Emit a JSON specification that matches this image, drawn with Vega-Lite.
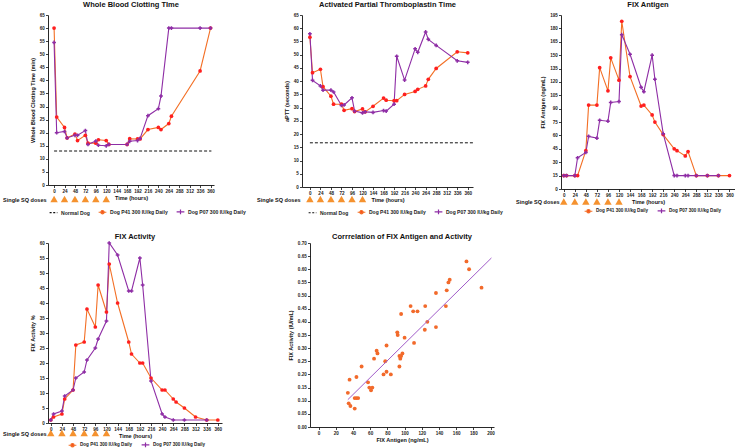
{
  "$schema": "https://vega.github.io/schema/vega-lite/v6.json",
  "padding": {"left": 2, "top": 0, "right": 0, "bottom": 0},
  "spacing": 15,
  "bounds": "full",
  "datasets": {
    "wbct_norm": [{"dog": "Normal", "h": 0, "h2": 362, "v": 13}],
    "aptt_norm": [{"dog": "Normal", "h": 0, "h2": 372, "v": 16.7}],
    "doses": [
      {"h": 0, "row": "Single SQ doses"}, {"h": 24, "row": "Single SQ doses"}, {"h": 48, "row": "Single SQ doses"},
      {"h": 72, "row": "Single SQ doses"}, {"h": 96, "row": "Single SQ doses"}, {"h": 120, "row": "Single SQ doses"}
    ],
    "wbct": [
      {"dog": "P41", "h": 0, "v": 60}, {"dog": "P41", "h": 6, "v": 26}, {"dog": "P41", "h": 24, "v": 22}, {"dog": "P41", "h": 30, "v": 18},
      {"dog": "P41", "h": 48, "v": 19.5}, {"dog": "P41", "h": 54, "v": 17}, {"dog": "P41", "h": 72, "v": 19}, {"dog": "P41", "h": 78, "v": 16},
      {"dog": "P41", "h": 96, "v": 16}, {"dog": "P41", "h": 102, "v": 17.3}, {"dog": "P41", "h": 120, "v": 17}, {"dog": "P41", "h": 126, "v": 15.5},
      {"dog": "P41", "h": 168, "v": 15.5}, {"dog": "P41", "h": 174, "v": 17.7}, {"dog": "P41", "h": 192, "v": 17.6}, {"dog": "P41", "h": 198, "v": 17.6},
      {"dog": "P41", "h": 216, "v": 21.2}, {"dog": "P41", "h": 240, "v": 22}, {"dog": "P41", "h": 246, "v": 21.2}, {"dog": "P41", "h": 264, "v": 23.5},
      {"dog": "P41", "h": 270, "v": 26.3}, {"dog": "P41", "h": 336, "v": 43.6}, {"dog": "P41", "h": 360, "v": 60},
      {"dog": "P07", "h": 0, "v": 54.5}, {"dog": "P07", "h": 6, "v": 20}, {"dog": "P07", "h": 24, "v": 20.5}, {"dog": "P07", "h": 30, "v": 18},
      {"dog": "P07", "h": 48, "v": 19}, {"dog": "P07", "h": 54, "v": 19}, {"dog": "P07", "h": 72, "v": 20.8}, {"dog": "P07", "h": 78, "v": 15.5},
      {"dog": "P07", "h": 96, "v": 16.8}, {"dog": "P07", "h": 102, "v": 15.2}, {"dog": "P07", "h": 120, "v": 15}, {"dog": "P07", "h": 126, "v": 15.5},
      {"dog": "P07", "h": 168, "v": 15.5}, {"dog": "P07", "h": 174, "v": 16.7}, {"dog": "P07", "h": 192, "v": 17}, {"dog": "P07", "h": 198, "v": 17.8},
      {"dog": "P07", "h": 216, "v": 26.5}, {"dog": "P07", "h": 240, "v": 29.2}, {"dog": "P07", "h": 246, "v": 34}, {"dog": "P07", "h": 264, "v": 60},
      {"dog": "P07", "h": 270, "v": 60}, {"dog": "P07", "h": 336, "v": 60}, {"dog": "P07", "h": 360, "v": 60}
    ],
    "aptt": [
      {"dog": "P41", "h": 0, "v": 56.6}, {"dog": "P41", "h": 6, "v": 43.2}, {"dog": "P41", "h": 24, "v": 44.5}, {"dog": "P41", "h": 30, "v": 37.9},
      {"dog": "P41", "h": 48, "v": 34.3}, {"dog": "P41", "h": 54, "v": 31.3}, {"dog": "P41", "h": 72, "v": 31.3}, {"dog": "P41", "h": 78, "v": 29},
      {"dog": "P41", "h": 96, "v": 29.6}, {"dog": "P41", "h": 102, "v": 28.5}, {"dog": "P41", "h": 120, "v": 29.5}, {"dog": "P41", "h": 126, "v": 28.4},
      {"dog": "P41", "h": 144, "v": 30.5}, {"dog": "P41", "h": 168, "v": 33.6}, {"dog": "P41", "h": 174, "v": 32.8}, {"dog": "P41", "h": 192, "v": 32.6},
      {"dog": "P41", "h": 198, "v": 32.6}, {"dog": "P41", "h": 216, "v": 35}, {"dog": "P41", "h": 240, "v": 36.1}, {"dog": "P41", "h": 246, "v": 36.9},
      {"dog": "P41", "h": 264, "v": 38.2}, {"dog": "P41", "h": 270, "v": 40.7}, {"dog": "P41", "h": 288, "v": 44.8}, {"dog": "P41", "h": 336, "v": 51.1},
      {"dog": "P41", "h": 360, "v": 50.7},
      {"dog": "P07", "h": 0, "v": 57.9}, {"dog": "P07", "h": 6, "v": 40.3}, {"dog": "P07", "h": 24, "v": 38.2}, {"dog": "P07", "h": 30, "v": 36.6},
      {"dog": "P07", "h": 48, "v": 36.6}, {"dog": "P07", "h": 54, "v": 35.9}, {"dog": "P07", "h": 72, "v": 30.8}, {"dog": "P07", "h": 78, "v": 31},
      {"dog": "P07", "h": 96, "v": 33.7}, {"dog": "P07", "h": 102, "v": 28.7}, {"dog": "P07", "h": 120, "v": 28}, {"dog": "P07", "h": 126, "v": 28.4},
      {"dog": "P07", "h": 144, "v": 28.2}, {"dog": "P07", "h": 168, "v": 28.9}, {"dog": "P07", "h": 174, "v": 28.7}, {"dog": "P07", "h": 192, "v": 31.3},
      {"dog": "P07", "h": 198, "v": 49.4}, {"dog": "P07", "h": 216, "v": 40.4}, {"dog": "P07", "h": 240, "v": 52.2}, {"dog": "P07", "h": 246, "v": 50.9},
      {"dog": "P07", "h": 264, "v": 58.6}, {"dog": "P07", "h": 270, "v": 55.8}, {"dog": "P07", "h": 288, "v": 53.5}, {"dog": "P07", "h": 336, "v": 47.7},
      {"dog": "P07", "h": 360, "v": 47.1}
    ],
    "fixag": [
      {"dog": "P41", "h": 0, "v": 15}, {"dog": "P41", "h": 6, "v": 15}, {"dog": "P41", "h": 24, "v": 15}, {"dog": "P41", "h": 30, "v": 15},
      {"dog": "P41", "h": 48, "v": 43}, {"dog": "P41", "h": 54, "v": 94}, {"dog": "P41", "h": 72, "v": 94}, {"dog": "P41", "h": 78, "v": 136},
      {"dog": "P41", "h": 96, "v": 110}, {"dog": "P41", "h": 102, "v": 147}, {"dog": "P41", "h": 120, "v": 122}, {"dog": "P41", "h": 126, "v": 188},
      {"dog": "P41", "h": 144, "v": 126}, {"dog": "P41", "h": 168, "v": 93}, {"dog": "P41", "h": 174, "v": 94}, {"dog": "P41", "h": 192, "v": 83},
      {"dog": "P41", "h": 198, "v": 75}, {"dog": "P41", "h": 216, "v": 61}, {"dog": "P41", "h": 240, "v": 45}, {"dog": "P41", "h": 246, "v": 43},
      {"dog": "P41", "h": 264, "v": 37}, {"dog": "P41", "h": 270, "v": 42}, {"dog": "P41", "h": 288, "v": 15}, {"dog": "P41", "h": 312, "v": 15},
      {"dog": "P41", "h": 336, "v": 15}, {"dog": "P41", "h": 360, "v": 15},
      {"dog": "P07", "h": 0, "v": 15}, {"dog": "P07", "h": 6, "v": 15}, {"dog": "P07", "h": 24, "v": 15}, {"dog": "P07", "h": 30, "v": 35},
      {"dog": "P07", "h": 48, "v": 41}, {"dog": "P07", "h": 54, "v": 59}, {"dog": "P07", "h": 72, "v": 57}, {"dog": "P07", "h": 78, "v": 77},
      {"dog": "P07", "h": 96, "v": 76}, {"dog": "P07", "h": 102, "v": 97}, {"dog": "P07", "h": 120, "v": 98}, {"dog": "P07", "h": 126, "v": 173},
      {"dog": "P07", "h": 144, "v": 151}, {"dog": "P07", "h": 168, "v": 114}, {"dog": "P07", "h": 174, "v": 109}, {"dog": "P07", "h": 192, "v": 150},
      {"dog": "P07", "h": 198, "v": 123}, {"dog": "P07", "h": 216, "v": 62}, {"dog": "P07", "h": 240, "v": 15}, {"dog": "P07", "h": 246, "v": 15},
      {"dog": "P07", "h": 264, "v": 15}, {"dog": "P07", "h": 270, "v": 15}, {"dog": "P07", "h": 288, "v": 15}, {"dog": "P07", "h": 312, "v": 15},
      {"dog": "P07", "h": 336, "v": 15}
    ],
    "fixact": [
      {"dog": "P41", "h": 0, "v": 1}, {"dog": "P41", "h": 6, "v": 2}, {"dog": "P41", "h": 24, "v": 3}, {"dog": "P41", "h": 30, "v": 8},
      {"dog": "P41", "h": 48, "v": 11}, {"dog": "P41", "h": 54, "v": 26}, {"dog": "P41", "h": 72, "v": 27}, {"dog": "P41", "h": 78, "v": 38},
      {"dog": "P41", "h": 96, "v": 32}, {"dog": "P41", "h": 102, "v": 46}, {"dog": "P41", "h": 120, "v": 37}, {"dog": "P41", "h": 126, "v": 53},
      {"dog": "P41", "h": 144, "v": 40}, {"dog": "P41", "h": 168, "v": 27}, {"dog": "P41", "h": 174, "v": 23}, {"dog": "P41", "h": 192, "v": 20},
      {"dog": "P41", "h": 198, "v": 20}, {"dog": "P41", "h": 216, "v": 15}, {"dog": "P41", "h": 240, "v": 11}, {"dog": "P41", "h": 246, "v": 11},
      {"dog": "P41", "h": 264, "v": 8}, {"dog": "P41", "h": 270, "v": 7}, {"dog": "P41", "h": 288, "v": 5}, {"dog": "P41", "h": 312, "v": 2},
      {"dog": "P41", "h": 336, "v": 1}, {"dog": "P41", "h": 360, "v": 1},
      {"dog": "P07", "h": 0, "v": 1}, {"dog": "P07", "h": 6, "v": 3}, {"dog": "P07", "h": 24, "v": 4}, {"dog": "P07", "h": 30, "v": 9},
      {"dog": "P07", "h": 48, "v": 11}, {"dog": "P07", "h": 54, "v": 15}, {"dog": "P07", "h": 72, "v": 17}, {"dog": "P07", "h": 78, "v": 21},
      {"dog": "P07", "h": 96, "v": 25}, {"dog": "P07", "h": 102, "v": 28}, {"dog": "P07", "h": 120, "v": 34}, {"dog": "P07", "h": 126, "v": 60},
      {"dog": "P07", "h": 144, "v": 56}, {"dog": "P07", "h": 168, "v": 44}, {"dog": "P07", "h": 174, "v": 44}, {"dog": "P07", "h": 192, "v": 55},
      {"dog": "P07", "h": 198, "v": 46}, {"dog": "P07", "h": 216, "v": 14}, {"dog": "P07", "h": 240, "v": 3}, {"dog": "P07", "h": 246, "v": 2},
      {"dog": "P07", "h": 264, "v": 1}, {"dog": "P07", "h": 288, "v": 1}, {"dog": "P07", "h": 336, "v": 1}
    ],
    "corr": [
      {"ag": 34, "act": 0.13}, {"ag": 36, "act": 0.18}, {"ag": 35, "act": 0.09}, {"ag": 37, "act": 0.08}, {"ag": 42, "act": 0.11},
      {"ag": 44, "act": 0.11}, {"ag": 46, "act": 0.11}, {"ag": 42, "act": 0.07}, {"ag": 44, "act": 0.19}, {"ag": 50, "act": 0.23},
      {"ag": 57.5, "act": 0.17}, {"ag": 59, "act": 0.15}, {"ag": 61, "act": 0.14}, {"ag": 62.5, "act": 0.15}, {"ag": 64.5, "act": 0.26},
      {"ag": 67.5, "act": 0.29}, {"ag": 68.5, "act": 0.28}, {"ag": 75.5, "act": 0.2}, {"ag": 77.5, "act": 0.25}, {"ag": 79, "act": 0.21},
      {"ag": 79, "act": 0.31}, {"ag": 84, "act": 0.2}, {"ag": 91.5, "act": 0.36}, {"ag": 92, "act": 0.35}, {"ag": 94, "act": 0.23},
      {"ag": 94, "act": 0.27}, {"ag": 95, "act": 0.26}, {"ag": 96, "act": 0.27}, {"ag": 96, "act": 0.43}, {"ag": 97.5, "act": 0.28},
      {"ag": 100, "act": 0.34}, {"ag": 107, "act": 0.46}, {"ag": 110, "act": 0.44}, {"ag": 111, "act": 0.32}, {"ag": 115, "act": 0.44},
      {"ag": 123.5, "act": 0.37}, {"ag": 124, "act": 0.46}, {"ag": 126.5, "act": 0.4}, {"ag": 136.5, "act": 0.51}, {"ag": 136.5, "act": 0.38},
      {"ag": 148, "act": 0.46}, {"ag": 149, "act": 0.52}, {"ag": 151, "act": 0.55}, {"ag": 152.5, "act": 0.56}, {"ag": 172, "act": 0.63},
      {"ag": 175, "act": 0.6}, {"ag": 189.5, "act": 0.53}
    ],
    "fit": [{"ag": 34, "act": 0.104}, {"ag": 201, "act": 0.643}]
  },
  "vconcat": [
    {
      "columns": 3,
      "spacing": {"row": 0, "column": 88},
      "bounds": "flush",
      "resolve": {"scale": {"color": "independent", "x": "independent", "y": "independent"}},
      "concat": [
        {
          "title": {"text": "Whole Blood Clotting TIme", "offset": 4},
          "width": 166, "height": 170,
          "layer": [
            {
              "data": {"name": "wbct_norm"},
              "mark": {"type": "rule", "strokeDash": [3, 2], "strokeWidth": 1},
              "encoding": {
                "x": {"field": "h", "type": "quantitative", "scale": {"domain": [-14, 368], "nice": false, "zero": false},
                      "axis": {"values": [0, 24, 48, 72, 96, 120, 144, 168, 192, 216, 240, 264, 288, 312, 336, 360], "format": "d", "tickCount": 100, "labelOverlap": false, "title": "Time (hours)"}},
                "x2": {"field": "h2"},
                "y": {"field": "v", "type": "quantitative", "scale": {"domain": [0, 65], "nice": false},
                      "axis": {"values": [0, 5, 10, 15, 20, 25, 30, 35, 40, 45, 50, 55, 60, 65], "format": "d", "tickCount": 100, "labelOverlap": false, "title": "Whole Blood Clotting Time (min)"}},
                "color": {"field": "dog", "type": "nominal",
                          "scale": {"domain": ["Normal", "P41", "P07"], "range": ["#111111", "#F36F25", "#8E2DA5"]},
                          "legend": {"orient": "none", "legendX": 1, "legendY": 192, "direction": "horizontal", "title": null,
                                     "labelExpr": "datum.label == 'Normal' ? 'Normal Dog' : 'Dog ' + datum.label + ' 300 IU/kg Daily'",
                                     "symbolSize": 60, "symbolStrokeWidth": 1.2, "labelFontSize": 5.1, "labelFontWeight": "bold", "labelColor": "#222222",
                                     "columnPadding": 6, "labelOffset": 3, "padding": 0,
                                     "encode": {"symbols": {"update": {
                                       "size": {"value": 60}, "strokeWidth": {"value": 1.2}, "opacity": {"value": 1},
                                       "shape": {"signal": "datum.value == 'Normal' ? 'stroke' : datum.value == 'P41' ? 'M-1,0H1M0.42,0A0.42,0.42,0,1,1,-0.42,0A0.42,0.42,0,1,1,0.42,0Z' : 'M-1,0H1M0,-0.6V0.6'"},
                                       "fill": {"signal": "datum.value == 'P41' ? '#FF1F1F' : 'transparent'"},
                                       "stroke": {"signal": "datum.value == 'Normal' ? '#111111' : datum.value == 'P41' ? '#FF1F1F' : '#8E2DA5'"},
                                       "strokeDash": {"signal": "datum.value == 'Normal' ? [2, 1.6] : [1, 0]"}}}}}}
              }
            },
            {
              "data": {"name": "wbct"},
              "mark": {"type": "line", "strokeWidth": 1.1},
              "encoding": {"x": {"field": "h", "type": "quantitative"}, "y": {"field": "v", "type": "quantitative"}, "color": {"field": "dog", "type": "nominal"}}
            },
            {
              "data": {"name": "wbct"}, "transform": [{"filter": "datum.dog == 'P41'"}],
              "mark": {"type": "point", "shape": "circle", "filled": true, "color": "#FF1F1F", "opacity": 1, "size": 14},
              "encoding": {"x": {"field": "h", "type": "quantitative"}, "y": {"field": "v", "type": "quantitative"}}
            },
            {
              "data": {"name": "wbct"}, "transform": [{"filter": "datum.dog == 'P07'"}],
              "mark": {"type": "point", "shape": "cross", "filled": true, "color": "#8E2DA5", "opacity": 1, "size": 14},
              "encoding": {"x": {"field": "h", "type": "quantitative"}, "y": {"field": "v", "type": "quantitative"}}
            }
          ]
        },
        {
          "title": {"text": "Activated Partial Thromboplastin Time", "offset": 4},
          "width": 171, "height": 172,
          "layer": [
            {
              "data": {"name": "aptt_norm"},
              "mark": {"type": "rule", "strokeDash": [3, 2], "strokeWidth": 1},
              "encoding": {
                "x": {"field": "h", "type": "quantitative", "scale": {"domain": [-18, 372], "nice": false, "zero": false},
                      "axis": {"values": [0, 24, 48, 72, 96, 120, 144, 168, 192, 216, 240, 264, 288, 312, 336, 360], "format": "d", "tickCount": 100, "labelOverlap": false, "title": "Time (hours)"}},
                "x2": {"field": "h2"},
                "y": {"field": "v", "type": "quantitative", "scale": {"domain": [0, 65], "nice": false},
                      "axis": {"values": [0, 5, 10, 15, 20, 25, 30, 35, 40, 45, 50, 55, 60, 65], "format": "d", "tickCount": 100, "labelOverlap": false, "title": "aPTT (seconds)"}},
                "color": {"field": "dog", "type": "nominal",
                          "scale": {"domain": ["Normal", "P41", "P07"], "range": ["#111111", "#F36F25", "#8E2DA5"]},
                          "legend": {"orient": "none", "legendX": 6, "legendY": 192, "direction": "horizontal", "title": null,
                                     "labelExpr": "datum.label == 'Normal' ? 'Normal Dog' : 'Dog ' + datum.label + ' 300 IU/kg Daily'",
                                     "symbolSize": 60, "symbolStrokeWidth": 1.2, "labelFontSize": 5, "labelFontWeight": "bold", "labelColor": "#222222",
                                     "columnPadding": 6, "labelOffset": 3, "padding": 0,
                                     "encode": {"symbols": {"update": {
                                       "size": {"value": 60}, "strokeWidth": {"value": 1.2}, "opacity": {"value": 1},
                                       "shape": {"signal": "datum.value == 'Normal' ? 'stroke' : datum.value == 'P41' ? 'M-1,0H1M0.42,0A0.42,0.42,0,1,1,-0.42,0A0.42,0.42,0,1,1,0.42,0Z' : 'M-1,0H1M0,-0.6V0.6'"},
                                       "fill": {"signal": "datum.value == 'P41' ? '#FF1F1F' : 'transparent'"},
                                       "stroke": {"signal": "datum.value == 'Normal' ? '#111111' : datum.value == 'P41' ? '#FF1F1F' : '#8E2DA5'"},
                                       "strokeDash": {"signal": "datum.value == 'Normal' ? [2, 1.6] : [1, 0]"}}}}}}
              }
            },
            {
              "data": {"name": "aptt"},
              "mark": {"type": "line", "strokeWidth": 1.1},
              "encoding": {"x": {"field": "h", "type": "quantitative"}, "y": {"field": "v", "type": "quantitative"}, "color": {"field": "dog", "type": "nominal"}}
            },
            {
              "data": {"name": "aptt"}, "transform": [{"filter": "datum.dog == 'P41'"}],
              "mark": {"type": "point", "shape": "circle", "filled": true, "color": "#FF1F1F", "opacity": 1, "size": 14},
              "encoding": {"x": {"field": "h", "type": "quantitative"}, "y": {"field": "v", "type": "quantitative"}}
            },
            {
              "data": {"name": "aptt"}, "transform": [{"filter": "datum.dog == 'P07'"}],
              "mark": {"type": "point", "shape": "cross", "filled": true, "color": "#8E2DA5", "opacity": 1, "size": 14},
              "encoding": {"x": {"field": "h", "type": "quantitative"}, "y": {"field": "v", "type": "quantitative"}}
            }
          ]
        },
        {
          "title": {"text": "FIX Antigen", "offset": 4},
          "width": 174, "height": 174,
          "layer": [
            {
              "data": {"name": "fixag"},
              "mark": {"type": "line", "strokeWidth": 1.1},
              "encoding": {
                "x": {"field": "h", "type": "quantitative", "scale": {"domain": [-6, 372], "nice": false, "zero": false},
                      "axis": {"values": [0, 24, 48, 72, 96, 120, 144, 168, 192, 216, 240, 264, 288, 312, 336, 360], "format": "d", "tickCount": 100, "labelOverlap": false, "title": "Time (hours)"}},
                "y": {"field": "v", "type": "quantitative", "scale": {"domain": [0, 195], "nice": false},
                      "axis": {"values": [0, 15, 30, 45, 60, 75, 90, 105, 120, 135, 150, 165, 180, 195], "format": "d", "tickCount": 100, "labelOverlap": false, "title": "FIX Antigen (ng/mL)"}},
                "color": {"field": "dog", "type": "nominal",
                          "scale": {"domain": ["P41", "P07"], "range": ["#F36F25", "#8E2DA5"]},
                          "legend": {"orient": "none", "legendX": 23, "legendY": 191, "direction": "horizontal", "title": null,
                                     "labelExpr": "'Dog ' + datum.label + ' 300 IU/kg Daily'",
                                     "symbolSize": 60, "symbolStrokeWidth": 1.2, "labelFontSize": 4.6, "labelFontWeight": "bold", "labelColor": "#222222",
                                     "columnPadding": 6, "labelOffset": 3, "padding": 0,
                                     "encode": {"symbols": {"update": {
                                       "size": {"value": 60}, "strokeWidth": {"value": 1.2}, "opacity": {"value": 1},
                                       "shape": {"signal": "datum.value == 'P41' ? 'M-1,0H1M0.42,0A0.42,0.42,0,1,1,-0.42,0A0.42,0.42,0,1,1,0.42,0Z' : 'M-1,0H1M0,-0.6V0.6'"},
                                       "fill": {"signal": "datum.value == 'P41' ? '#FF1F1F' : 'transparent'"},
                                       "stroke": {"signal": "datum.value == 'P41' ? '#FF1F1F' : '#8E2DA5'"}}}}}}
              }
            },
            {
              "data": {"name": "fixag"}, "transform": [{"filter": "datum.dog == 'P41'"}],
              "mark": {"type": "point", "shape": "circle", "filled": true, "color": "#FF1F1F", "opacity": 1, "size": 14},
              "encoding": {"x": {"field": "h", "type": "quantitative"}, "y": {"field": "v", "type": "quantitative"}}
            },
            {
              "data": {"name": "fixag"}, "transform": [{"filter": "datum.dog == 'P07'"}],
              "mark": {"type": "point", "shape": "cross", "filled": true, "color": "#8E2DA5", "opacity": 1, "size": 14},
              "encoding": {"x": {"field": "h", "type": "quantitative"}, "y": {"field": "v", "type": "quantitative"}}
            }
          ]
        },
        {
          "data": {"name": "doses"}, "width": 166, "height": 20,
          "mark": {"type": "point", "shape": "triangle-up", "filled": true, "color": "#F5922F", "size": 55, "opacity": 1},
          "encoding": {
            "x": {"field": "h", "type": "quantitative", "scale": {"domain": [-14, 368], "nice": false, "zero": false}, "axis": null},
            "y": {"field": "row", "type": "nominal", "scale": {"type": "point", "domain": ["Single SQ doses"]},
                  "axis": {"title": null, "domain": false, "ticks": false, "labelPadding": 2, "labelFontSize": 5.5, "labelFontWeight": "bold", "labelColor": "#111111"}}
          }
        },
        {
          "data": {"name": "doses"}, "width": 171, "height": 20,
          "mark": {"type": "point", "shape": "triangle-up", "filled": true, "color": "#F5922F", "size": 55, "opacity": 1},
          "encoding": {
            "x": {"field": "h", "type": "quantitative", "scale": {"domain": [-18, 372], "nice": false, "zero": false}, "axis": null},
            "y": {"field": "row", "type": "nominal", "scale": {"type": "point", "domain": ["Single SQ doses"]},
                  "axis": {"title": null, "domain": false, "ticks": false, "labelPadding": 2, "labelFontSize": 5.5, "labelFontWeight": "bold", "labelColor": "#111111"}}
          }
        },
        {
          "data": {"name": "doses"}, "width": 174, "height": 25,
          "mark": {"type": "point", "shape": "triangle-up", "filled": true, "color": "#F5922F", "size": 55, "opacity": 1},
          "encoding": {
            "x": {"field": "h", "type": "quantitative", "scale": {"domain": [-6, 372], "nice": false, "zero": false}, "axis": null},
            "y": {"field": "row", "type": "nominal", "scale": {"type": "point", "domain": ["Single SQ doses"]},
                  "axis": {"title": null, "domain": false, "ticks": false, "labelPadding": 2, "labelFontSize": 5.5, "labelFontWeight": "bold", "labelColor": "#111111"}}
          }
        }
      ]
    },
    {
      "columns": 2,
      "spacing": {"row": 0, "column": 88},
      "bounds": "flush",
      "resolve": {"scale": {"color": "independent", "x": "independent", "y": "independent"}},
      "concat": [
        {
          "title": {"text": "FIX Activity", "offset": 0},
          "width": 174, "height": 180,
          "layer": [
            {
              "data": {"name": "fixact"},
              "mark": {"type": "line", "strokeWidth": 1.1},
              "encoding": {
                "x": {"field": "h", "type": "quantitative", "scale": {"domain": [-6, 369], "nice": false, "zero": false},
                      "axis": {"values": [0, 24, 48, 72, 96, 120, 144, 168, 192, 216, 240, 264, 288, 312, 336, 360], "format": "d", "tickCount": 100, "labelOverlap": false, "title": "Time (hours)"}},
                "y": {"field": "v", "type": "quantitative", "scale": {"domain": [0, 60], "nice": false},
                      "axis": {"values": [0, 5, 10, 15, 20, 25, 30, 35, 40, 45, 50, 55, 60], "format": "d", "tickCount": 100, "labelOverlap": false, "title": "FIX Activity %"}},
                "color": {"field": "dog", "type": "nominal",
                          "scale": {"domain": ["P41", "P07"], "range": ["#F36F25", "#8E2DA5"]},
                          "legend": {"orient": "none", "legendX": 20, "legendY": 197, "direction": "horizontal", "title": null,
                                     "labelExpr": "'Dog ' + datum.label + ' 300 IU/kg Daily'",
                                     "symbolSize": 60, "symbolStrokeWidth": 1.2, "labelFontSize": 4.6, "labelFontWeight": "bold", "labelColor": "#222222",
                                     "columnPadding": 6, "labelOffset": 3, "padding": 0,
                                     "encode": {"symbols": {"update": {
                                       "size": {"value": 60}, "strokeWidth": {"value": 1.2}, "opacity": {"value": 1},
                                       "shape": {"signal": "datum.value == 'P41' ? 'M-1,0H1M0.42,0A0.42,0.42,0,1,1,-0.42,0A0.42,0.42,0,1,1,0.42,0Z' : 'M-1,0H1M0,-0.6V0.6'"},
                                       "fill": {"signal": "datum.value == 'P41' ? '#FF1F1F' : 'transparent'"},
                                       "stroke": {"signal": "datum.value == 'P41' ? '#FF1F1F' : '#8E2DA5'"}}}}}}
              }
            },
            {
              "data": {"name": "fixact"}, "transform": [{"filter": "datum.dog == 'P41'"}],
              "mark": {"type": "point", "shape": "circle", "filled": true, "color": "#FF1F1F", "opacity": 1, "size": 14},
              "encoding": {"x": {"field": "h", "type": "quantitative"}, "y": {"field": "v", "type": "quantitative"}}
            },
            {
              "data": {"name": "fixact"}, "transform": [{"filter": "datum.dog == 'P07'"}],
              "mark": {"type": "point", "shape": "cross", "filled": true, "color": "#8E2DA5", "opacity": 1, "size": 14},
              "encoding": {"x": {"field": "h", "type": "quantitative"}, "y": {"field": "v", "type": "quantitative"}}
            }
          ]
        },
        {
          "title": {"text": "Corrrelation of FIX Antigen and Activity", "offset": 0},
          "width": 184, "height": 184,
          "layer": [
            {
              "data": {"name": "corr"},
              "mark": {"type": "point", "filled": true, "color": "#F26A2B", "size": 15, "opacity": 1},
              "encoding": {
                "x": {"field": "ag", "type": "quantitative", "scale": {"domain": [-10, 204], "nice": false, "zero": false},
                      "axis": {"values": [0, 20, 40, 60, 80, 100, 120, 140, 160, 180, 200], "format": "d", "tickCount": 100, "labelOverlap": false, "title": "FIX Antigen (ng/mL)"}},
                "y": {"field": "act", "type": "quantitative", "scale": {"domain": [0, 0.7], "nice": false},
                      "axis": {"values": [0, 0.05, 0.1, 0.15, 0.2, 0.25, 0.3, 0.35, 0.4, 0.45, 0.5, 0.55, 0.6, 0.65, 0.7], "tickCount": 100, "labelOverlap": false, "format": ".2f", "title": "FIX Activity (IU/mL)"}}
              }
            },
            {
              "data": {"name": "fit"},
              "mark": {"type": "line", "color": "#A15CC9", "strokeWidth": 1},
              "encoding": {"x": {"field": "ag", "type": "quantitative"}, "y": {"field": "act", "type": "quantitative"}}
            }
          ]
        },
        {
          "data": {"name": "doses"}, "width": 174, "height": 12,
          "mark": {"type": "point", "shape": "triangle-up", "filled": true, "color": "#F5922F", "size": 55, "opacity": 1},
          "encoding": {
            "x": {"field": "h", "type": "quantitative", "scale": {"domain": [-6, 369], "nice": false, "zero": false}, "axis": null},
            "y": {"field": "row", "type": "nominal", "scale": {"type": "point", "domain": ["Single SQ doses"]},
                  "axis": {"title": null, "domain": false, "ticks": false, "labelPadding": 2, "labelFontSize": 5.5, "labelFontWeight": "bold", "labelColor": "#111111"}}
          }
        }
      ]
    }
  ],
  "resolve": {"scale": {"color": "independent", "x": "independent", "y": "independent"}},
  "config": {
    "font": "Liberation Sans",
    "view": {"stroke": null},
    "axis": {"grid": false, "domainColor": "#111111", "domainWidth": 0.9, "tickColor": "#111111", "tickWidth": 0.8, "tickSize": 2.5,
             "labelFont": "Liberation Sans", "labelFontSize": 4.6, "labelFontWeight": "bold", "labelColor": "#222222", "labelPadding": 1.2,
             "labelFlush": false, "labelOverlap": false,
             "titleFont": "Liberation Sans", "titleFontSize": 5.5, "titleFontWeight": "bold", "titleColor": "#111111", "titlePadding": 4},
    "axisX": {"titlePadding": 2.5},
    "title": {"font": "Liberation Sans", "fontSize": 7.5, "fontWeight": "bold", "color": "#111111", "anchor": "middle"},
    "legend": {"labelFont": "Liberation Sans"}
  }
}
